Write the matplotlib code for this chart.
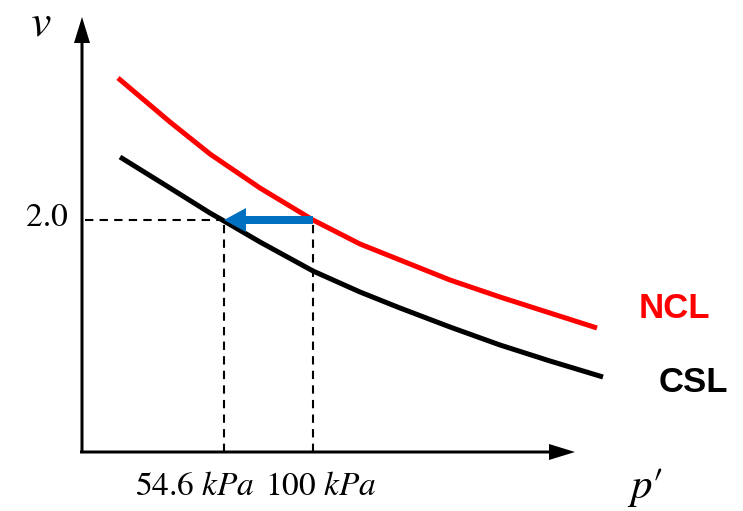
import matplotlib.pyplot as plt

plt.rcParams['mathtext.fontset'] = 'stix'
plt.rcParams['font.family'] = 'STIXGeneral'

# schematic units: distance from the axis origin (the sketch has no real scale)
ncl_p = [36, 88, 128, 178, 231, 278, 328, 368, 418, 468, 515]
ncl_v = [374, 330, 298, 264, 232, 208, 188, 172, 155, 139, 124]
csl_p = [38, 88, 128, 142, 178, 231, 278, 318, 368, 418, 468, 521]
csl_v = [295, 264, 239, 231, 210, 181, 160, 144, 125, 107, 91, 75]

v_ref = 232          # v = 2.0
p_csl = 142          # 54.6 kPa
p_ncl = 231          # 100 kPa

fig = plt.figure(figsize=(7.43, 5.11), dpi=100)
ax = fig.add_axes([0, 0, 1, 1])
ax.set_xlim(-82, 661)
ax.set_ylim(-59, 452)
ax.axis('off')

# axes with arrow heads
ax.arrow(0, 0, 0, 435, width=3, head_width=16, head_length=26,
         length_includes_head=True, color='black', lw=0)
ax.arrow(-2, 0, 495, 0, width=3, head_width=16, head_length=26,
         length_includes_head=True, color='black', lw=0)

# curves
ax.plot(ncl_p, ncl_v, color='#ff0000', lw=3.6, solid_capstyle='butt', solid_joinstyle='round')
ax.plot(csl_p, csl_v, color='black', lw=3.6, solid_capstyle='butt', solid_joinstyle='round')

# dashed guides
ax.plot([3, p_ncl], [v_ref, v_ref], 'k--', lw=1.5, dashes=(4, 3))
ax.plot([p_csl, p_csl], [0, v_ref], 'k--', lw=1.5, dashes=(4, 3))
ax.plot([p_ncl, p_ncl], [0, v_ref], 'k--', lw=1.5, dashes=(4, 3))

# blue arrow NCL -> CSL
ax.arrow(p_ncl, v_ref, p_csl - p_ncl, 0, width=8, head_width=24,
         head_length=22, length_includes_head=True, color='#0070c0', lw=0, zorder=5)

# labels
ax.text(-41, 427, r'$v$', fontsize=33, ha='center', va='center')
ax.text(-35, 234, '2.0', fontsize=24, ha='center', va='center')
ax.text(113, -35, r'54.6 $kPa$', fontsize=24, ha='center', va='center')
ax.text(239, -35, r'100 $kPa$', fontsize=24, ha='center', va='center')
ax.text(563, -35, '$p$\u2032', fontsize=31, ha='center', va='center')
ax.text(592, 144, 'NCL', fontsize=25, fontweight='bold', color='#ff0000',
        family='Liberation Sans', ha='center', va='center')
ax.text(611, 70, 'CSL', fontsize=25, fontweight='bold', color='black',
        family='Liberation Sans', ha='center', va='center')

plt.savefig('out.png', dpi=100, facecolor='white')
